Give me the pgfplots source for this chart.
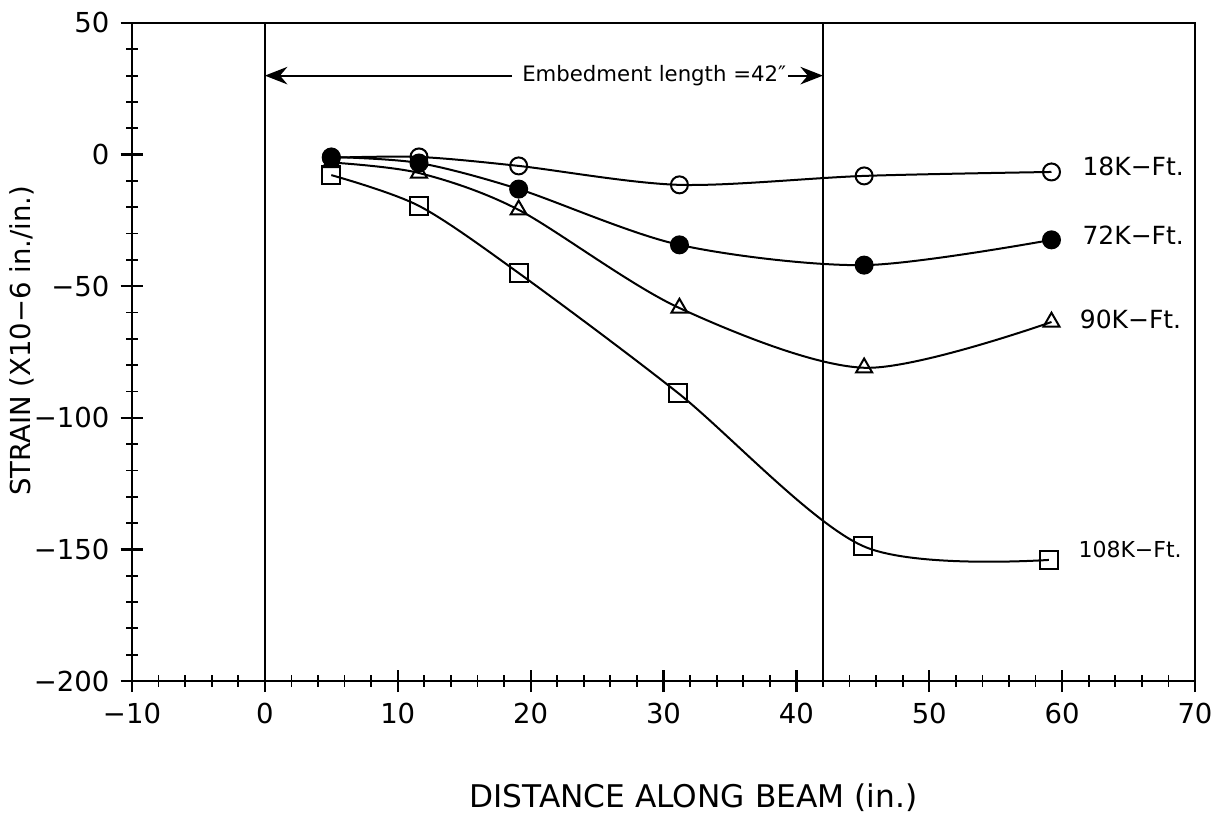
\documentclass[border=0pt]{standalone}
\usepackage{pgfplots}
\pgfplotsset{compat=1.18}
\usepackage{fontspec}
\setmainfont{DejaVu Sans}
\usetikzlibrary{arrows.meta}

\begin{document}
\begin{tikzpicture}
\begin{axis}[
 name=ax,
 scale only axis, width=425.2pt, height=263.2pt,
 xmin=-10, xmax=70, ymin=-200, ymax=50,
 xtick={-10,0,...,70}, xticklabels={−10,0,10,20,30,40,50,60,70},
 ytick={-200,-150,...,50}, yticklabels={−200,−150,−100,−50,0,50},
 minor x tick num=4, minor y tick num=4,
 tick pos=left, tick align=center,
 major tick length=9pt, minor tick length=4.5pt,
 major tick style={black, line width=0.9pt},
 minor tick style={black, line width=0.7pt},
 axis line style={line width=1pt},
 tick label style={font=\fontsize{11}{13}\selectfont},
 yticklabel style={xshift=-1pt},
 xticklabel style={yshift=-1pt},
 xlabel={DISTANCE ALONG BEAM (in.)},
 ylabel={STRAIN (X10−6 in./in.)},
 xlabel style={font=\fontsize{12.5}{15}\selectfont, at={(axis description cs:0.528,-0.178)}, anchor=center},
 ylabel style={font=\fontsize{11}{13}\selectfont, at={(axis description cs:-0.1035,0.517)}, anchor=center},
 clip=false,
]
% embedment boundaries
\addplot[black, line width=0.9pt] coordinates {(0,-200) (0,50)};
\addplot[black, line width=0.9pt] coordinates {(42,-200) (42,50)};

% 108K-Ft
\addplot[black, line width=0.8pt, smooth, mark=square, mark size=3.6pt, mark options={solid, line width=0.8pt}]
 coordinates {(5,-7.8) (11.6,-19.5) (19.1,-45) (31.1,-90.6) (45,-148.7) (59,-154)};
% 90K-Ft
\addplot[black, line width=0.8pt, smooth, mark=triangle, mark size=3.7pt, mark options={solid, line width=0.8pt}]
 coordinates {(5,-3) (11.6,-7) (19.1,-21) (31.2,-58.3) (45.1,-81) (59.2,-63.6)};
% 72K-Ft
\addplot[black, line width=0.8pt, smooth, mark=*, mark size=3.4pt, mark options={solid, fill=black}]
 coordinates {(5,-0.9) (11.6,-3.2) (19.1,-13.1) (31.2,-34.3) (45.1,-42) (59.2,-32.4)};
% 18K-Ft
\addplot[black, line width=0.8pt, smooth, mark=o, mark size=3.4pt, mark options={solid, line width=0.8pt}]
 coordinates {(5,-1.2) (11.6,-0.9) (19.1,-4.3) (31.2,-11.5) (45.1,-8.1) (59.2,-6.6)};

% embedment arrow
\draw[black, line width=0.8pt, -{Stealth[length=9pt,width=7pt]}] (axis cs:18.6,30) -- (axis cs:0,30);
\node[font=\fontsize{8.5}{10}\selectfont, inner sep=0pt] at (axis cs:29.3,30) {Embedment length =42″};
\draw[black, line width=0.8pt, -{Stealth[length=9pt,width=7pt]}] (axis cs:39.4,30) -- (axis cs:42,30);

% series labels
\node[anchor=west, inner sep=0pt, font=\fontsize{10}{12}\selectfont] at (axis cs:61.5,-4.3) {18K−Ft.};
\node[anchor=west, inner sep=0pt, font=\fontsize{10}{12}\selectfont] at (axis cs:61.5,-30.5) {72K−Ft.};
\node[anchor=west, inner sep=0pt, font=\fontsize{10}{12}\selectfont] at (axis cs:61.3,-62.8) {90K−Ft.};
\node[anchor=west, inner sep=0pt, font=\fontsize{8.8}{10}\selectfont] at (axis cs:61.2,-150) {108K−Ft.};
\end{axis}
\pgfresetboundingbox
\path[use as bounding box] ([shift={(-52.8pt,-55.6pt)}]ax.south west) rectangle ([shift={(8.8pt,9.2pt)}]ax.north east);
\end{tikzpicture}
\end{document}
